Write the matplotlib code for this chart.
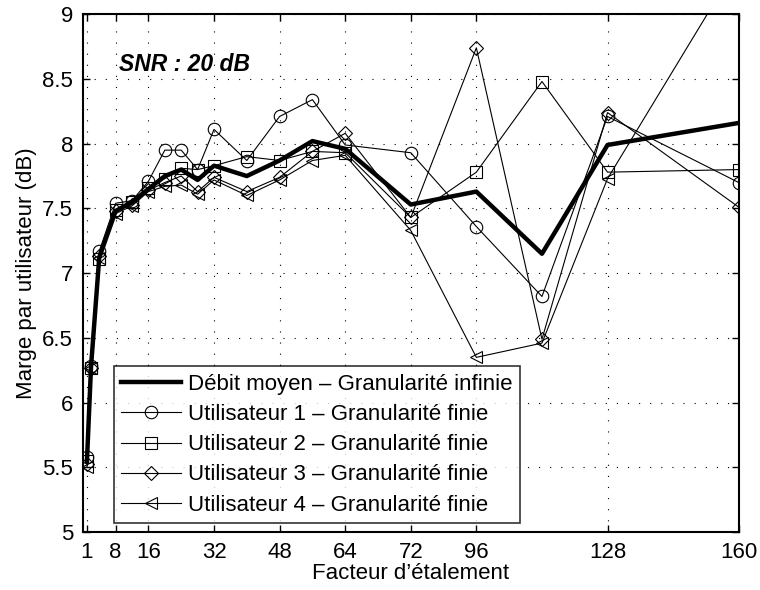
import matplotlib
matplotlib.use("Agg")
import matplotlib.pyplot as plt
import numpy as np

plt.rcParams['font.family'] = ['Liberation Sans', 'DejaVu Sans']

# facteur d'etalement (abscisses) et marges en dB
sf = [1, 2, 4, 8, 12, 16, 20, 24, 28, 32, 40, 48, 56, 64, 80, 96, 112, 128, 160]

marge_moy = [5.55, 6.28, 7.12, 7.48, 7.55, 7.65, 7.75, 7.80, 7.72, 7.83, 7.75,
             7.87, 8.02, 7.96, 7.53, 7.63, 7.15, 7.99, 8.16]
marge_u1 = [5.58, 6.28, 7.17, 7.54, 7.56, 7.71, 7.95, 7.95, 7.80, 8.11, 7.87,
            8.21, 8.34, 7.99, 7.93, 7.36, 6.82, 8.21, 7.70]
marge_u2 = [5.55, 6.27, 7.11, 7.49, 7.55, 7.66, 7.73, 7.81, 7.80, 7.83, 7.90,
            7.87, 7.94, 7.93, 7.43, 7.78, 8.48, 7.78, 7.80]
marge_u3 = [5.53, 6.27, 7.13, 7.48, 7.53, 7.64, 7.70, 7.75, 7.63, 7.74, 7.63,
            7.74, 7.94, 8.08, 7.43, 8.74, 6.49, 8.24, 7.51]
marge_u4 = [5.50, 6.27, 7.12, 7.46, 7.52, 7.63, 7.67, 7.68, 7.61, 7.72, 7.60,
            7.72, 7.87, 7.91, 7.33, 6.35, 6.46, 7.73, 9.40]

xtick_pos = [1, 8, 16, 32, 48, 64, 80, 96, 128, 160]
xtick_lab = ['1', '8', '16', '32', '48', '64', '72', '96', '128', '160']

fig = plt.figure(figsize=(7.6, 5.9), dpi=100)
ax = fig.add_axes([0.109, 0.098, 0.863, 0.878])

ax.plot(sf, marge_moy, 'k-', lw=3.2, label=u"Débit moyen \u2013 Granularité infinie", zorder=4)
ax.plot(sf, marge_u1, 'k-o', lw=0.8, ms=9, mfc='none', mew=0.8,
        label=u"Utilisateur 1 \u2013 Granularité finie")
ax.plot(sf, marge_u2, 'k-s', lw=0.8, ms=8, mfc='none', mew=0.8,
        label=u"Utilisateur 2 \u2013 Granularité finie")
ax.plot(sf, marge_u3, 'k-D', lw=0.8, ms=7, mfc='none', mew=0.8,
        label=u"Utilisateur 3 \u2013 Granularité finie")
ax.plot(sf, marge_u4, 'k-<', lw=0.8, ms=9, mfc='none', mew=0.8,
        label=u"Utilisateur 4 \u2013 Granularité finie")

ax.set_xlim(0, 160)
ax.set_ylim(5, 9)
ax.set_xticks(xtick_pos)
ax.set_xticklabels(xtick_lab)
ax.set_yticks(np.arange(5, 9.01, 0.5))
ax.set_yticklabels(['5', '5.5', '6', '6.5', '7', '7.5', '8', '8.5', '9'])
ax.tick_params(direction='in', length=5, width=1, labelsize=16,
               top=True, right=True, pad=7)
for s in ax.spines.values():
    s.set_linewidth(1.5)

ax.grid(True, color='k', linestyle=(0, (1, 9)), linewidth=0.8)
ax.set_axisbelow(True)

ax.set_xlabel(u"Facteur d\u2019étalement", fontsize=16, labelpad=0)
ax.set_ylabel("Marge par utilisateur (dB)", fontsize=16, labelpad=4)

ax.text(8.8, 8.61, "SNR : 20 dB", fontsize=16.5, fontweight='bold', style='italic',
        va='center')

leg = ax.legend(loc='lower left', bbox_to_anchor=(0.047, 0.017), fontsize=16,
                frameon=True, fancybox=False, edgecolor='k', handlelength=2.7,
                handletextpad=0.3, borderpad=0.35, labelspacing=0.41,
                borderaxespad=0)
leg.get_frame().set_linewidth(1.2)

fig.savefig("out.png", dpi=100)
